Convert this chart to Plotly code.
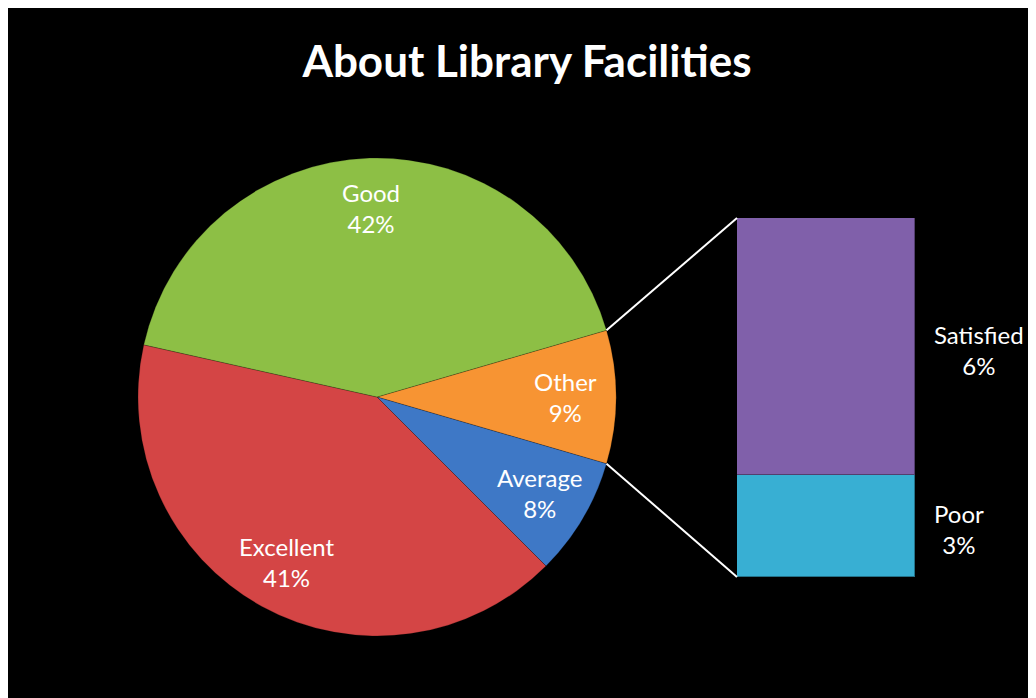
import math
import plotly.graph_objects as go

# ---- data ----
pie_labels = ["Other", "Average", "Excellent", "Good"]
pie_values = [9, 8, 41, 42]
pie_colors = ["#F79433", "#3E78C6", "#D44545", "#8DBF45"]

bar_labels = ["Poor", "Satisfied"]
bar_values = [2.55, 6.45]
bar_colors = ["#38AFD3", "#8060AA"]

title_text = "About Library Facilities"

# ---- layout geometry (page pixels; page body has an 8px offset) ----
OX, OY = 8, 8
W, H = 1028, 690
FONT = "Lato"


def fx(x):
    return (x - OX) / W


def fy(y):
    return 1 - (y - OY) / H


cx, cy, R = 377, 397, 239
bar_x0, bar_x1, bar_y0, bar_y1 = 737, 915, 218, 577

total = sum(pie_values)
other_frac = pie_values[0] / total
start_deg = other_frac * 360 / 2  # math angle where first slice starts
rotation = 90 - start_deg

fig = go.Figure()

fig.add_trace(go.Pie(
    labels=pie_labels,
    values=pie_values,
    sort=False,
    direction="clockwise",
    rotation=rotation,
    marker=dict(colors=pie_colors, line=dict(color="rgba(0,0,0,0.2)", width=1)),
    textinfo="none",
    hoverinfo="label+percent",
    showlegend=False,
    domain=dict(x=[fx(cx - R), fx(cx + R)], y=[fy(cy + R), fy(cy - R)]),
))

for lab, val, col in zip(bar_labels, bar_values, bar_colors):
    fig.add_trace(go.Bar(
        x=[0], y=[val], name=lab, width=1,
        marker=dict(color=col, line=dict(color="rgba(0,0,0,0.35)", width=1)),
        xaxis="x2", yaxis="y2", showlegend=False,
    ))

annotations = []
# pie labels placed along slice bisectors
cum = 0.0
for lab, val in zip(pie_labels, pie_values):
    frac = val / total
    mid = start_deg - (cum + frac / 2) * 360
    cum += frac
    r = 0.79 * R
    px = cx + r * math.cos(math.radians(mid))
    py = cy - r * math.sin(math.radians(mid))
    annotations.append(dict(
        x=fx(px), y=fy(py), xref="paper", yref="paper",
        xanchor="center", yanchor="middle",
        text=f"{lab}<br>{round(val / total * 100)}%",
        showarrow=False, align="center",
        font=dict(family=FONT, size=24, color="white"),
    ))

# bar labels
cum = 0.0
for lab, val in zip(bar_labels, bar_values):
    mid = cum + val / 2
    cum += val
    annotations.append(dict(
        x=0.5, y=mid, xref="x2", yref="y2", xshift=17, yshift=-3,
        xanchor="left", yanchor="middle",
        text=f"{lab}<br>{round(val / total * 100)}%",
        showarrow=False, align="center",
        font=dict(family=FONT, size=24, color="white"),
    ))

# connector lines from pie "Other" slice edges to bar corners
a_top = math.radians(start_deg)
a_bot = math.radians(start_deg - other_frac * 360)
shapes = [
    dict(type="line", xref="paper", yref="paper",
         x0=fx(cx + R * math.cos(a_top)), y0=fy(cy - R * math.sin(a_top)),
         x1=fx(bar_x0), y1=fy(bar_y0),
         line=dict(color="white", width=2)),
    dict(type="line", xref="paper", yref="paper",
         x0=fx(cx + R * math.cos(a_bot)), y0=fy(cy - R * math.sin(a_bot)),
         x1=fx(bar_x0), y1=fy(bar_y1),
         line=dict(color="white", width=2)),
]

fig.update_layout(
    width=W, height=H,
    margin=dict(l=0, r=0, t=0, b=0),
    paper_bgcolor="black",
    plot_bgcolor="black",
    title=dict(text=f"<b>{title_text}</b>", x=(527 - OX) / W, xref="container", xanchor="center",
               y=1 - (62 - OY) / H, yref="container", yanchor="middle",
               font=dict(family=FONT, size=44, color="white")),
    barmode="stack",
    bargap=0,
    xaxis2=dict(domain=[fx(bar_x0), fx(bar_x1)], range=[-0.5, 0.5], anchor="y2",
                visible=False, fixedrange=True),
    yaxis2=dict(domain=[fy(bar_y1), fy(bar_y0)], range=[0, sum(bar_values)], anchor="x2",
                visible=False, fixedrange=True),
    annotations=annotations,
    shapes=shapes,
)

fig.write_html("out.html")
